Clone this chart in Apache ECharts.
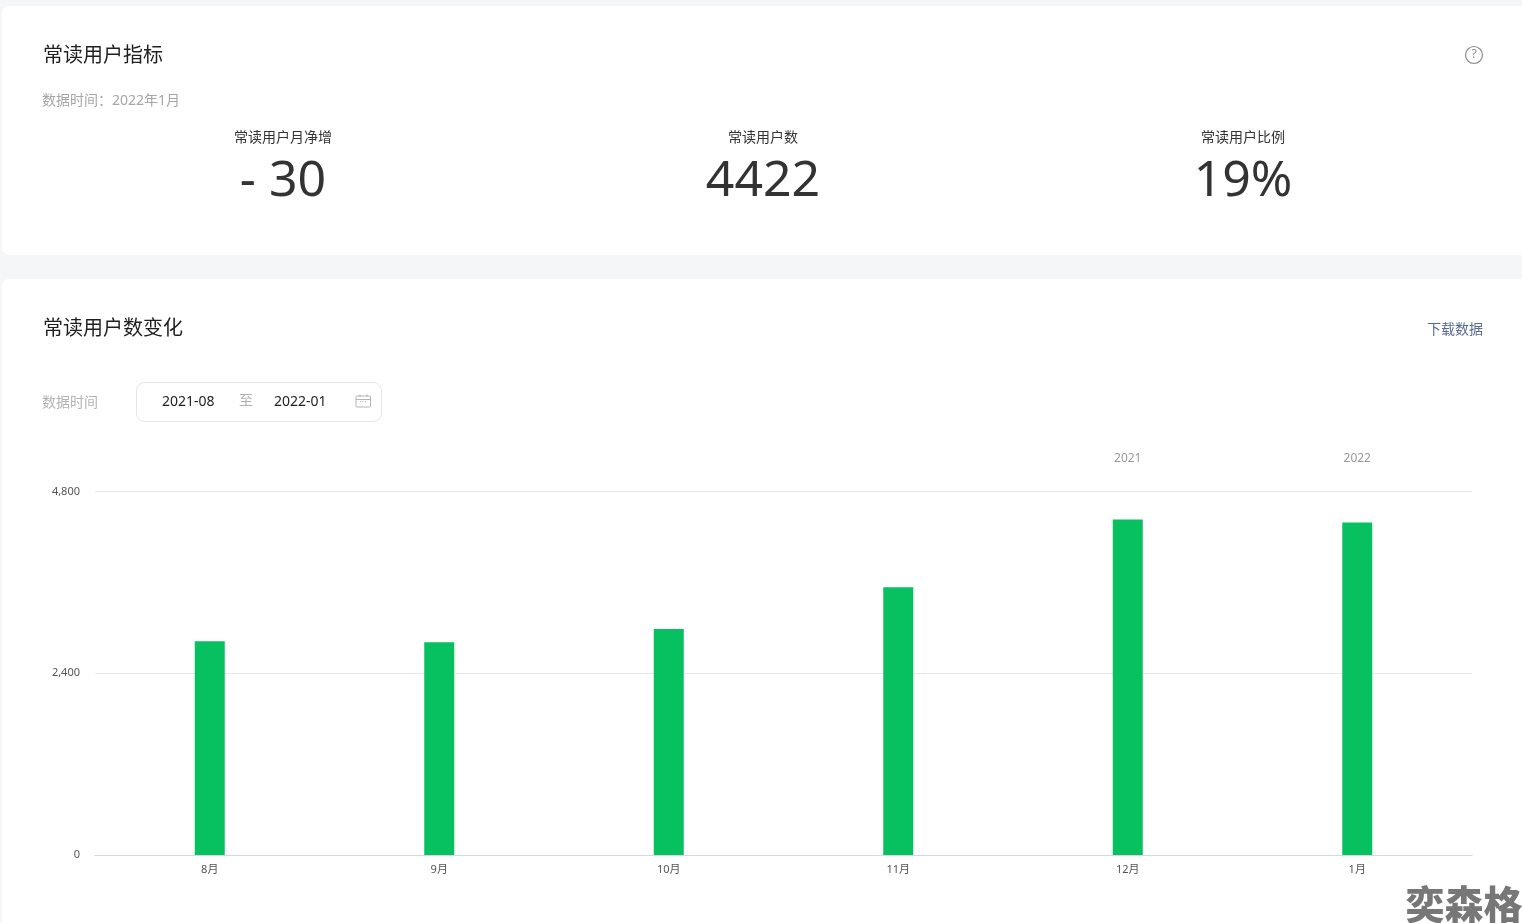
<!DOCTYPE html>
<html><head><meta charset="utf-8">
<style>html,body{margin:0;padding:0;background:#f5f6f7;overflow:hidden}#c{width:1522px;height:923px}</style>
<script src="https://cdn.jsdelivr.net/npm/echarts@6/dist/echarts.min.js"></script>
</head><body><div id="c"></div>
<script>
const months = ['8月','9月','10月','11月','12月','1月'];
const years = ['','','','','2021','2022'];
const readers = [2822,2810,2985,3535,4430,4392];
const yTicks = [0,2400,4800];
const kpiNames = ['常读用户月净增','常读用户数','常读用户比例'];
const kpiValues = ['- 30','4422','19%'];
const FF = '"Noto Sans","Noto Sans CJK SC",sans-serif';
const T = (x,y,text,size,fill,align,extra) => ({type:'text',x,y,z:5,style:Object.assign({text,fontSize:size,fill,fontFamily:FF,align:align||'left',verticalAlign:'middle'},extra||{})});
const kpiX = [283,763,1243];
const elements = [
  {type:'rect',z:-10,shape:{x:2,y:6,width:1540,height:249,r:7},style:{fill:'#fff'}},
  {type:'rect',z:-10,shape:{x:2,y:279,width:1540,height:670,r:7},style:{fill:'#fff'}},
  T(43,56,'常读用户指标',20,'#1f1f1f'),
  T(42,101,'数据时间：2022年1月',14,'#a6a6a6'),
  T(43,329,'常读用户数变化',20,'#1f1f1f'),
  T(1483,330,'下载数据',14,'#576b95','right'),
  T(42,403,'数据时间',14,'#b3b3b3'),
  {type:'rect',z:4,shape:{x:136.5,y:382.5,width:245,height:39,r:8},style:{fill:'#fff',stroke:'#e6e6e6',lineWidth:1}},
  T(162,402,'2021-08',14,'#222'),
  T(246,401,'至',14,'#b0b0b0','center'),
  T(274,402,'2022-01',14,'#222'),
  {type:'rect',z:5,shape:{x:356,y:396,width:14.5,height:11,r:1},style:{fill:'none',stroke:'#b5b5b5',lineWidth:1}},
  {type:'line',z:5,shape:{x1:356,y1:399.5,x2:370.5,y2:399.5},style:{stroke:'#b5b5b5',lineWidth:1}},
  {type:'line',z:5,shape:{x1:360,y1:394.5,x2:360,y2:397},style:{stroke:'#b5b5b5',lineWidth:1}},
  {type:'line',z:5,shape:{x1:367,y1:394.5,x2:367,y2:397},style:{stroke:'#b5b5b5',lineWidth:1}},
  T(363,402.5,'···',9,'#b5b5b5','center'),
  {type:'circle',z:5,shape:{cx:1474,cy:55,r:8.5},style:{fill:'none',stroke:'#8c8c8c',lineWidth:1.2}},
  T(1474,55,'?',12,'#8c8c8c','center'),
  T(1464,904,'奕森格',39,'#777777','center',{fontWeight:900,fontFamily:'"Noto Sans CJK SC",sans-serif'})
];
kpiNames.forEach((n,i)=>{
  elements.push(T(kpiX[i],138,n,14,'#333','center'));
  elements.push(T(kpiX[i],182,kpiValues[i],50,'#333','center'));
});
const chart = echarts.init(document.getElementById('c'));
chart.setOption({
  animation:false,
  graphic:{elements},
  grid:{left:95,right:50,top:491.5,bottom:68,containLabel:false},
  xAxis:[
    {type:'category',data:months,axisTick:{show:false},
     axisLine:{lineStyle:{color:'#d3d8e0',width:1}},
     axisLabel:{color:'#555',fontSize:11,margin:9,fontFamily:FF}},
    {type:'category',data:years,position:'top',axisTick:{show:false},axisLine:{show:false},
     axisLabel:{color:'#999',fontSize:12,margin:27,fontFamily:FF,interval:0}}
  ],
  yAxis:{type:'value',min:0,max:4800,interval:2400,
    axisLabel:{color:'#555',fontSize:11,margin:15,fontFamily:FF},
    axisLine:{show:false},axisTick:{show:false},
    splitLine:{lineStyle:{color:'#e8e8e8',width:1}}},
  series:[{type:'bar',data:readers,barWidth:30,itemStyle:{color:'#07c160'}}]
});
</script></body></html>
